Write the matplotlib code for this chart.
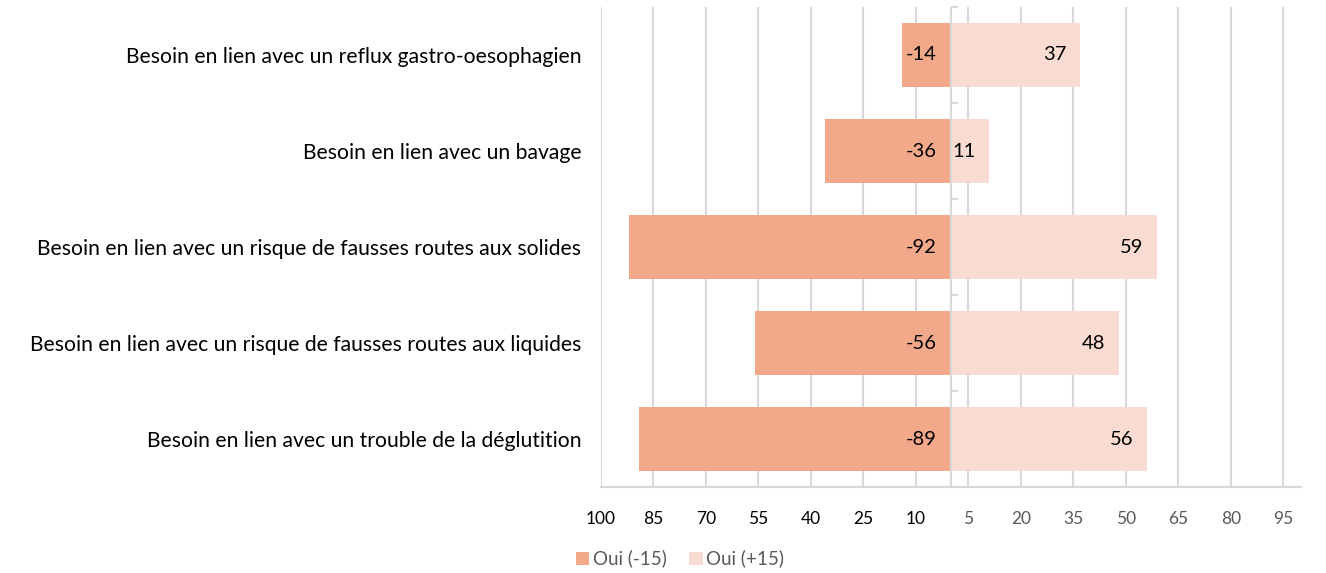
import numpy as np
import matplotlib
matplotlib.use('Agg')
import matplotlib.pyplot as plt

plt.rcParams['font.family'] = ['Lato', 'DejaVu Sans']

categories = [
    "Besoin en lien avec un reflux gastro-oesophagien",
    "Besoin en lien avec un bavage",
    "Besoin en lien avec un risque de fausses routes aux solides",
    "Besoin en lien avec un risque de fausses routes aux liquides",
    "Besoin en lien avec un trouble de la déglutition",
]
neg_values = [-14, -36, -92, -56, -89]
pos_values = [37, 11, 59, 48, 56]
series_names = ["Oui (-15)", "Oui (+15)"]
x_ticks = [-100, -85, -70, -55, -40, -25, -10, 5, 20, 35, 50, 65, 80, 95]

neg_color = '#F1A98A'
pos_color = '#F9DBD1'
grid_color = '#D9D9D9'

fig = plt.figure(figsize=(13.26, 5.73), dpi=100)
ax = fig.add_axes([0.4532, 0.150, 0.5279, 0.8378])

y = np.arange(len(categories))
h = 0.667
b1 = ax.barh(y, neg_values, height=h, color=neg_color, label=series_names[0], zorder=2)
b2 = ax.barh(y, pos_values, height=h, color=pos_color, label=series_names[1], zorder=2)

# data labels: negative at base, positive at inside end
for yi, v in zip(y, neg_values):
    ax.text(-4, yi, str(v), ha='right', va='center', fontsize=14.5, color='black', zorder=4)
for yi, v in zip(y, pos_values):
    ax.text(v - 4, yi, str(v), ha='right', va='center', fontsize=14.5, color='black', zorder=4)

ax.set_xlim(-100, 100)
ax.set_ylim(len(categories) - 0.5, -0.5)
ax.set_xticks(x_ticks)
ax.set_xticklabels([str(abs(t)) for t in x_ticks])
for lbl, t in zip(ax.get_xticklabels(), x_ticks):
    lbl.set_color('black' if t < 0 else '#595959')
ax.tick_params(axis='x', length=0, pad=17, labelsize=12.5)
ax.grid(axis='x', color=grid_color, linewidth=1.5, zorder=0)

ax.set_yticks(y)
ax.set_yticklabels(categories, fontsize=15.2)
ax.tick_params(axis='y', length=0, pad=14)

for s in ['top', 'right', 'left']:
    ax.spines[s].set_visible(False)
ax.spines['bottom'].set_color(grid_color)
ax.spines['bottom'].set_linewidth(1.5)

# zero axis with category separators
ax.axvline(0, color=grid_color, linewidth=1.5, zorder=3)
zax = ax.secondary_yaxis(0.5)
zax.set_yticks(np.arange(len(categories) + 1) - 0.5)
zax.set_yticklabels([])
zax.tick_params(axis='y', direction='out', length=5, color=grid_color, width=1.5)
for s in zax.spines.values():
    s.set_visible(False)

fig.legend(handles=[b1, b2], loc='center', bbox_to_anchor=(0.513, 0.025), ncol=2,
           frameon=False, fontsize=13.5, handlelength=0.7, handleheight=0.7,
           handletextpad=0.2, columnspacing=1.2, labelcolor='#595959')

fig.savefig('out.png', dpi=100)
plt.close()
